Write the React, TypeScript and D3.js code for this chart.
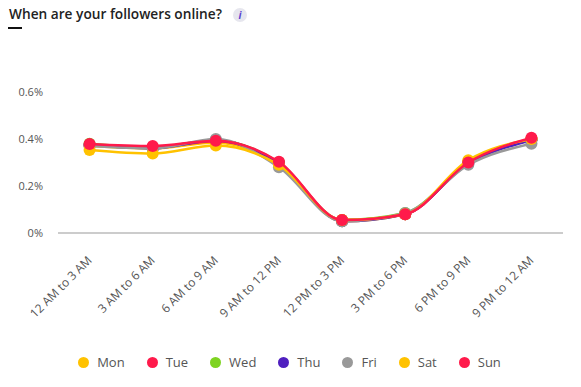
import * as d3 from "d3";
import React from "react";

const categories = [
  "12 AM to 3 AM",
  "3 AM to 6 AM",
  "6 AM to 9 AM",
  "9 AM to 12 PM",
  "12 PM to 3 PM",
  "3 PM to 6 PM",
  "6 PM to 9 PM",
  "9 PM to 12 AM",
];

const days = ["Mon", "Tue", "Wed", "Thu", "Fri", "Sat", "Sun"];
const colors = ["#FFC200", "#FF1A4B", "#7ED321", "#4F1FBF", "#999999", "#FFC200", "#FF1A4B"];

// percent of followers online
const mon = [0.37, 0.36, 0.385, 0.29, 0.05, 0.08, 0.305, 0.4];
const tue = [0.375, 0.365, 0.39, 0.3, 0.055, 0.08, 0.3, 0.4];
const wed = [0.38, 0.365, 0.395, 0.3, 0.055, 0.085, 0.3, 0.4];
const thu = [0.375, 0.36, 0.395, 0.295, 0.05, 0.08, 0.295, 0.395];
const fri = [0.37, 0.36, 0.4, 0.28, 0.05, 0.085, 0.29, 0.38];
const sat = [0.353, 0.338, 0.372, 0.29, 0.055, 0.08, 0.31, 0.4];
const sun = [0.379, 0.37, 0.393, 0.303, 0.055, 0.08, 0.3, 0.405];
const series = [mon, tue, wed, thu, fri, sat, sun];

const yTicks = [0, 0.2, 0.4, 0.6];

const W = 581;
const H = 387;
const font = "'Open Sans', sans-serif";

export default function App() {
  const x = d3.scaleBand().domain(categories).range([58, 563]);
  const y = d3.scaleLinear().domain([0, 0.6]).range([233, 92]);
  const cx = (c: string) => (x(c) ?? 0) + x.bandwidth() / 2;

  const line = d3
    .line<number>()
    .x((_, i) => cx(categories[i]))
    .y((d) => y(d))
    .curve(d3.curveMonotoneX);

  return (
    <div style={{ position: "absolute", left: 0, top: 0, width: W, height: H, background: "#fff" }}>
      <svg width={W} height={H} style={{ display: "block", fontFamily: font }}>
        <text x={9} y={19} fontSize={13.7} fontWeight={600} fill="#222">
          When are your followers online?
        </text>
        <rect x={8} y={27} width={14} height={2} fill="#111" />
        <circle cx={240} cy={15} r={7} fill="#E6E6EE" />
        <text x={240} y={19} fontSize={10} fontStyle="italic" fontWeight={700} fill="#5B3FD0" textAnchor="middle">
          i
        </text>

        {yTicks.map((t) => (
          <text key={t} x={43} y={y(t)} dy="0.35em" textAnchor="end" fontSize={11} fill="#555">
            {t === 0 ? "0%" : `${t.toFixed(1)}%`}
          </text>
        ))}
        <line x1={58} x2={563} y1={y(0)} y2={y(0)} stroke="#999" strokeWidth={1} />

        {categories.map((c) => (
          <text
            key={c}
            transform={`translate(${cx(c) + 3},${y(0) + 28}) rotate(-45)`}
            textAnchor="end"
            fontSize={12}
            fill="#555"
          >
            {c}
          </text>
        ))}

        {series.map((s, si) => (
          <g key={days[si]}>
            <path d={line(s) ?? ""} fill="none" stroke={colors[si]} strokeWidth={2.5} />
            {s.map((v, i) => (
              <circle key={i} cx={cx(categories[i])} cy={y(v)} r={6} fill={colors[si]} />
            ))}
          </g>
        ))}
      </svg>
      <div
        style={{
          position: "absolute",
          left: 0,
          width: W,
          top: 353,
          display: "flex",
          justifyContent: "center",
          gap: 22,
          fontFamily: font,
          fontSize: 13,
          color: "#555",
          paddingRight: 2,
          boxSizing: "border-box",
        }}
      >
        {days.map((d, i) => (
          <div key={d} style={{ display: "flex", alignItems: "center", gap: 8 }}>
            <span
              style={{ width: 11, height: 11, borderRadius: "50%", background: colors[i], display: "inline-block" }}
            />
            <span>{d}</span>
          </div>
        ))}
      </div>
    </div>
  );
}
